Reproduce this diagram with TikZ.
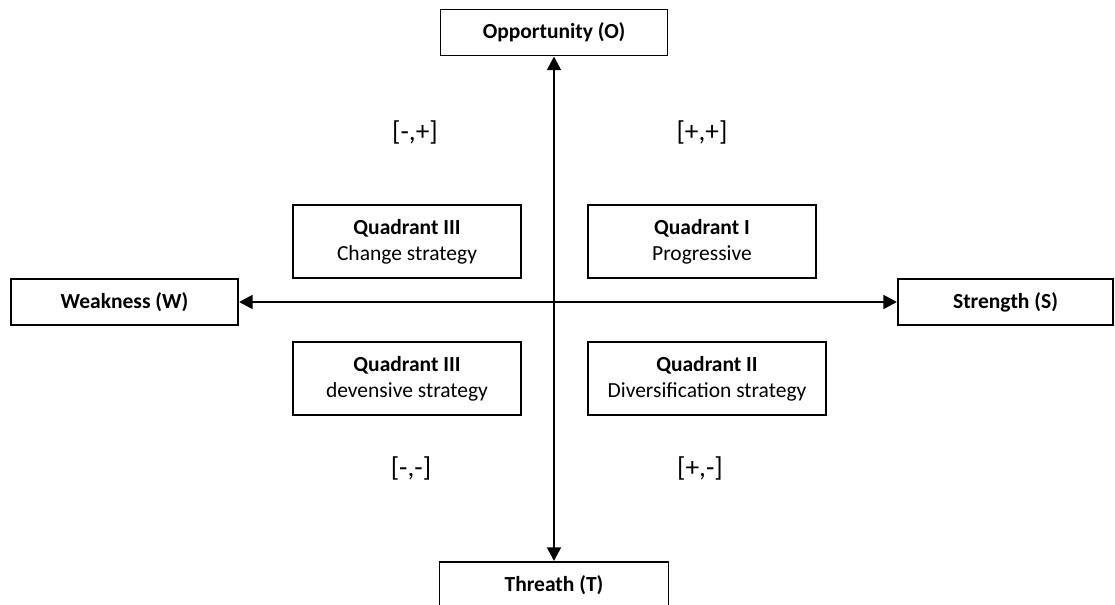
\documentclass[tikz,border=0pt]{standalone}
\usepackage{fontspec}
\setmainfont{Carlito}
\usetikzlibrary{arrows.meta}
\newdimen\px \px=0.5115pt
\tikzset{axis/.style={{Triangle[length=7pt,width=7pt]}-{Triangle[length=7pt,width=7pt]},line width=1.4pt},
		pole/.style={rectangle,draw=black,line width=1pt,inner sep=0pt,minimum height=46\px,font=\bfseries\fontsize{11}{13.4}\selectfont}}

\begin{document}
\begin{tikzpicture}[x=\px,y=-\px,
		quad/.style={rectangle,draw=black,line width=1pt,inner sep=0pt,align=center,minimum width=228\px,minimum height=73\px,font=\fontsize{11}{13.4}\selectfont},
		sign/.style={font=\fontsize{14}{17}\selectfont}]
		\useasboundingbox (0,0) rectangle (1115,605);
		% the four poles
		\node[pole,minimum width=227\px] (opportunity) at (554,32.5) {Opportunity (O)};
		\node[pole,minimum width=229\px] (threat) at (554,585) {Threath (T)};
		\node[pole,minimum width=227\px] (weakness) at (124.5,302) {Weakness (W)};
		\node[pole,minimum width=215\px] (strength) at (1005.5,302) {Strength (S)};
		\draw[axis] (opportunity) -- (threat);
		\draw[axis] (weakness) -- (strength);
		
		% quadrants
		\node[quad] (quad-change) at (407,241.5) {\textbf{Quadrant III}\\Change strategy};
		\node[quad] (quad-progressive) at (702,241.5) {\textbf{Quadrant I}\\Progressive};
		\node[quad] (quad-defensive) at (407,378.5) {\textbf{Quadrant III}\\devensive strategy};
		\node[quad,minimum width=238\px] (quad-diversification) at (707,378.5) {\textbf{Quadrant II}\\Diversification strategy};
		
		\node[sign] (sign-mp) at (415,132) {[-,+]};
		\node[sign] (sign-pp) at (702,132) {[+,+]};
		\node[sign] (sign-mm) at (411,468) {[-,-]};
		\node[sign] (sign-pm) at (700,468) {[+,-]};
	\end{tikzpicture}
\end{document}
